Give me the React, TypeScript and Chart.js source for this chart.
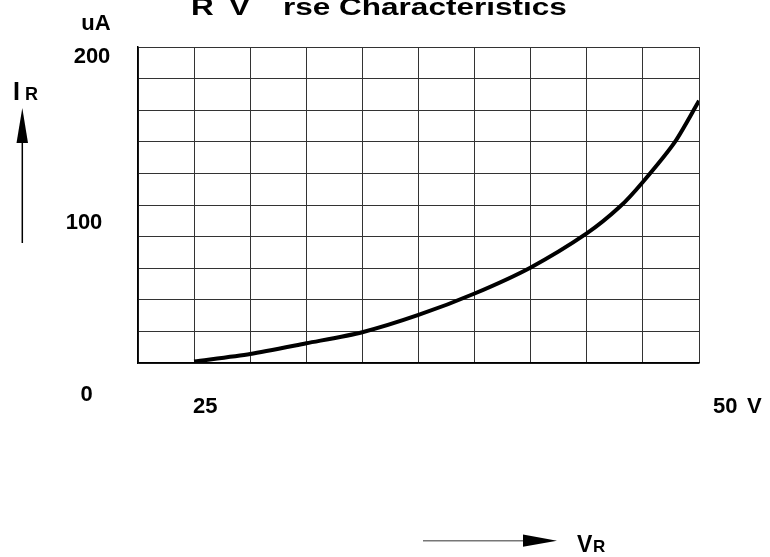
import React, { useEffect, useRef } from "react";
import { Chart, registerables } from "chart.js";

Chart.register(...registerables);

// Reverse voltage (V) at the points
const voltage = [25.0, 27.78, 30.56, 33.33, 36.11, 38.89, 41.67, 44.44, 46.09, 47.22, 48.81, 50.0];
// Reverse current (uA)
const current = [1, 5.7, 12.5, 19.5, 30.4, 44, 60.5, 82, 99, 114.6, 140, 166];

const xMin = 25 - 25 / 9;
const xMax = 50;
const xGridCount = 10;
const yMin = 0;
const yMax = 200;
const yStep = 20;

const yTickLabels = ["200", "100", "0"];
const xTickLabels = ["25", "50"];
const titleParts = ["R", "V", "rse Characteristics"];

const FONT = "'Liberation Sans', Arial, sans-serif";

const annotations = {
  id: "annotations",
  afterDraw(chart: any) {
    const ctx: CanvasRenderingContext2D = chart.ctx;
    ctx.save();
    ctx.fillStyle = "#000";
    ctx.textBaseline = "alphabetic";

    // Title (horizontally stretched, top clipped in the original)
    const titleX = [191, 229, 283];
    ctx.font = `bold 23px ${FONT}`;
    ctx.textAlign = "left";
    titleParts.forEach((t, i) => {
      ctx.save();
      ctx.translate(titleX[i], 15);
      ctx.scale(1.37, 1);
      ctx.fillText(t, 0, 0);
      ctx.restore();
    });

    // Unit
    ctx.font = `bold 22px ${FONT}`;
    ctx.textAlign = "center";
    ctx.fillText("uA", 96, 30);

    // Y tick labels
    const yLabelPos = [
      [92, 63],
      [84, 229],
      [86.5, 401],
    ];
    yTickLabels.forEach((t, i) => {
      ctx.fillText(t, yLabelPos[i][0], yLabelPos[i][1]);
    });

    // X tick labels
    ctx.textAlign = "left";
    ctx.fillText(xTickLabels[0], 193, 413);
    ctx.fillText(xTickLabels[1], 713, 413);
    ctx.fillText("V", 747, 413);

    // I_R label
    ctx.font = `bold 25px ${FONT}`;
    ctx.fillText("I", 13, 100);
    ctx.font = `bold 18px ${FONT}`;
    ctx.fillText("R", 25, 100);

    // V_R label
    ctx.font = `bold 23px ${FONT}`;
    ctx.fillText("V", 577, 552);
    ctx.font = `bold 17px ${FONT}`;
    ctx.fillText("R", 593, 552);

    // Vertical arrow
    ctx.strokeStyle = "#000";
    ctx.lineWidth = 1.5;
    ctx.beginPath();
    ctx.moveTo(22.3, 140);
    ctx.lineTo(22.3, 243);
    ctx.stroke();
    ctx.beginPath();
    ctx.moveTo(22.3, 108);
    ctx.lineTo(28, 143);
    ctx.lineTo(16.5, 143);
    ctx.closePath();
    ctx.fill();

    // Horizontal arrow
    ctx.strokeStyle = "#777";
    ctx.lineWidth = 1.5;
    ctx.beginPath();
    ctx.moveTo(423, 540.7);
    ctx.lineTo(525, 540.7);
    ctx.stroke();
    ctx.fillStyle = "#000";
    ctx.beginPath();
    ctx.moveTo(523, 534.5);
    ctx.lineTo(557, 540.7);
    ctx.lineTo(523, 546.8);
    ctx.closePath();
    ctx.fill();

    ctx.restore();
  },
};

export default function App() {
  const ref = useRef<HTMLCanvasElement>(null);

  useEffect(() => {
    document.body.style.margin = "0";
    const canvas = ref.current;
    if (!canvas) return;
    const chart = new Chart(canvas, {
      type: "line",
      data: {
        datasets: [
          {
            data: voltage.map((v, i) => ({ x: v, y: current[i] })),
            borderColor: "#000",
            borderWidth: 4,
            pointRadius: 0,
            tension: 0.25,
            fill: false,
          },
        ],
      },
      options: {
        animation: false,
        responsive: false,
        devicePixelRatio: 1,
        layout: { padding: { left: 138, top: 47, right: 71, bottom: 194 } },
        plugins: {
          legend: { display: false },
          tooltip: { enabled: false },
          title: { display: false },
        },
        scales: {
          x: {
            type: "linear",
            min: xMin,
            max: xMax,
            afterBuildTicks: (scale: any) => {
              const step = (xMax - xMin) / xGridCount;
              scale.ticks = Array.from({ length: xGridCount + 1 }, (_, i) => ({ value: xMin + i * step }));
            },
            ticks: { display: false },
            grid: { color: "#333", lineWidth: 1, drawTicks: false },
            border: { display: true, color: "#000", width: 1.5 },
          },
          y: {
            type: "linear",
            min: yMin,
            max: yMax,
            ticks: { display: false, stepSize: yStep },
            grid: { color: "#333", lineWidth: 1, drawTicks: false },
            border: { display: true, color: "#000", width: 1.5 },
          },
        },
      },
      plugins: [annotations],
    } as any);
    return () => chart.destroy();
  }, []);

  return (
    <div style={{ width: 770, height: 557, background: "#fff" }}>
      <canvas ref={ref} width={770} height={557} style={{ display: "block" }} />
    </div>
  );
}
